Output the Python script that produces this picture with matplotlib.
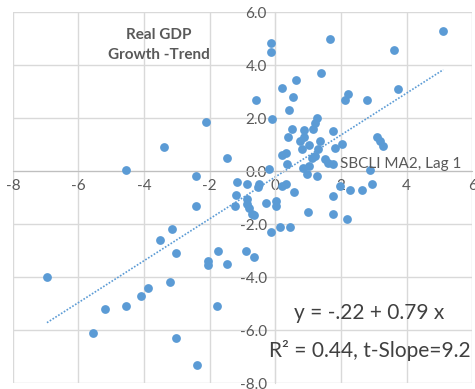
import numpy as np
import matplotlib.pyplot as plt

plt.rcParams['font.family'] = ['Lato', 'DejaVu Sans']

# SBCLI MA2 (lag 1) vs real GDP growth minus trend
sbcli = [-6.96, -5.55, -5.18, -4.54, -4.1, -3.87, -3.22, -3.5, -3.16, -3.03,
         -3.04, -4.55, -3.4, -2.12, -1.47, -2.42, -1.17, -1.2, -2.42, -1.23,
         -2.06, -2.06, -1.75, -1.47, -1.78, -2.39, -0.86, -0.86, -0.8, -0.7,
         -0.64, -0.28, 0.03, 0.03, 0.58, 1.0, 1.75, 1.75, 2.2, -0.12,
         0.15, 0.46, -0.9, -0.64, -0.86, -0.49, -0.52, 0.2, 0.34, 1.96,
         2.27, 2.64, 2.94, 2.9, -0.18,
         -0.12, -0.12, 1.66, 5.12, 3.62, 3.74, 1.38, 0.64, 0.19, 0.55,
         -0.58, 0.41, -0.09, 2.13, 2.22, 2.8, 1.28, 1.22, 1.16, 1.75,
         0.52, 0.4, 0.89, 0.89, 0.74, 1.04, 0.8, 1.35, 1.29, 1.81,
         2.02, 3.1, 3.2, 3.28, 0.19, 0.34, 0.37, 1.2, 1.5, 1.6,
         1.75, 1.13, 0.83, 1.04, 0.98, 1.26]
gdp_gap = [-4.0, -6.1, -5.2, -5.1, -4.7, -4.4, -4.2, -2.6, -2.2, -3.1,
           -6.3, 0.05, 0.9, 1.85, 0.5, -0.2, -0.4, -0.9, -1.3, -1.3,
           -3.4, -3.55, -3.0, -3.5, -5.1, -7.3, -1.06, -1.25, -1.4, -1.6,
           -1.65, -1.2, -1.3, -1.13, -0.8, -1.55, -0.95, -1.6, -1.8, -2.3,
           -2.1, -2.1, -3.0, -3.25, -0.5, -0.5, -0.6, -0.55, -0.5, -0.57,
           -0.7, -0.7, -0.5, 0.06, 0.07,
           4.85, 4.5, 5.0, 5.3, 4.55, 3.1, 3.7, 3.45, 3.15, 2.8,
           2.7, 2.3, 1.95, 2.7, 2.9, 2.7, 2.0, 1.8, 1.6, 1.5,
           1.6, 1.3, 1.55, 1.3, 1.13, 1.0, 0.85, 1.13, 0.85, 0.87,
           1.02, 1.3, 1.13, 0.94, 0.6, 0.7, 0.26, 0.57, 0.45, 0.3,
           0.26, 0.5, 0.13, 0.19, -0.1, -0.2]

intercept = -0.22
slope = 0.79
x_ticks = [-8, -6, -4, -2, 0, 2, 4, 6]
y_ticks = [-8, -6, -4, -2, 0, 2, 4, 6]

grey = '#595959'

fig = plt.figure(figsize=(4.75, 3.89), dpi=100)
ax = fig.add_axes([0.027, 0.015, 0.967, 0.954])

ax.scatter(sbcli, gdp_gap, s=40, color='#5B9BD5', zorder=3, linewidths=0)

xs = np.array([min(sbcli), max(sbcli)])
ax.plot(xs, intercept + slope * xs, linestyle=(0, (1, 1)), color='#5B9BD5',
        linewidth=1.2, zorder=2)

ax.set_xlim(-8, 6)
ax.set_ylim(-8, 6)
ax.set_xticks(x_ticks)
ax.set_yticks(y_ticks)
ax.set_xticklabels([str(t) for t in x_ticks])
ax.set_yticklabels([f'{t:.1f}' for t in y_ticks])
ax.grid(True, color='#d9d9d9', linewidth=1)
ax.set_axisbelow(True)

ax.spines['left'].set_position(('data', 0))
ax.spines['bottom'].set_position(('data', 0))
ax.spines['left'].set_color('#d9d9d9')
ax.spines['bottom'].set_color('#bfbfbf')
ax.spines['top'].set_visible(False)
ax.spines['right'].set_visible(False)
ax.tick_params(length=0, labelsize=11, colors=grey, pad=6)

ax.text(-3.56, 4.75, 'Real GDP\nGrowth -Trend', ha='center', va='center',
        fontsize=11, color=grey, linespacing=1.6, fontweight='bold')
ax.text(1.96, 0.26, 'SBCLI MA2, Lag 1', ha='left', va='center',
        fontsize=11, color=grey)
ax.text(2.85, -5.36, 'y = -.22 + 0.79 x', ha='center', va='center',
        fontsize=15, color='#404040')
ax.text(2.88, -6.75, 'R² = 0.44, t-Slope=9.2', ha='center', va='center',
        fontsize=15, color='#404040')

fig.savefig('out.png', dpi=100)
